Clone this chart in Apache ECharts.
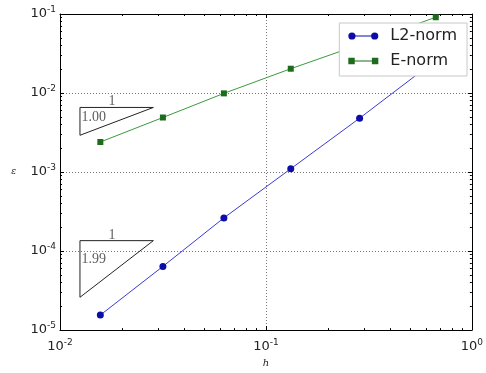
<!DOCTYPE html>
<html>
<head>
<meta charset="utf-8">
<script src="https://cdn.jsdelivr.net/npm/echarts@6/dist/echarts.min.js"></script>
<style>
html, body { margin: 0; padding: 0; background: #fff; }
#chart-container { width: 486px; height: 373px; }
</style>
</head>
<body>
<div id="chart-container"></div>
<script>
// mesh size and the two error norms
var hValues = [0.0157, 0.0316, 0.0625, 0.132, 0.285, 0.668];
var l2Norm = [1.55e-5, 6.4e-5, 2.63e-4, 1.1e-3, 4.8e-3, 2.6e-2];
var eNorm = [2.4e-3, 4.9e-3, 9.9e-3, 2.03e-2, 4.1e-2, 9.1e-2];

// slope triangles: [corner, right end, lower end, corner]
var triUpper = [[0.0125, 0.00657], [0.0284, 0.00657], [0.0125, 0.00292], [0.0125, 0.00657]];
var triLower = [[0.0125, 1.355e-4], [0.0284, 1.355e-4], [0.0125, 2.6e-5], [0.0125, 1.355e-4]];
var runLabels = ['1', '1'];
var runLabelPos = [[0.0179, 0.0078], [0.0179, 1.57e-4]];
var slopeLabels = ['1.00', '1.99'];
var slopeLabelPos = [[0.0127, 0.00492], [0.0127, 7.8e-5]];

var minorSteps = [2, 3, 4, 5, 6, 7, 8, 9];
var xDecades = [0.01, 0.1];
var yDecades = [1e-5, 1e-4, 1e-3, 1e-2];

function minorTicks(decades) {
    var out = [];
    decades.forEach(function (d) {
        minorSteps.forEach(function (m) { out.push(+(d * m).toPrecision(3)); });
    });
    return out;
}
var xMinor = minorTicks(xDecades);
var yMinor = minorTicks(yDecades);

function zip(xs, ys) {
    return xs.map(function (x, i) { return [x, ys[i]]; });
}

var dom = document.getElementById('chart-container');
var myChart = echarts.init(dom, null, { renderer: 'canvas' });

var font = 'DejaVu Sans';
var tickRich = {
    b: { fontSize: 13, fontFamily: font, color: '#222' },
    s: { fontSize: 9, fontFamily: font, color: '#222', verticalAlign: 'top', padding: [0, 0, 8, 0] }
};
function powLabel(v) {
    var e = Math.round(Math.log(v) / Math.LN10);
    return '{b|10}{s|' + e + '}';
}

function mainAxis(pos, withLabels, range) {
    return {
        type: 'log', logBase: 10, min: range[0], max: range[1], position: pos,
        axisLine: { show: true, onZero: false, lineStyle: { color: '#000', width: 1 } },
        axisTick: { show: true, inside: true, length: 4, lineStyle: { color: '#000' } },
        axisLabel: withLabels ? { show: true, formatter: powLabel, rich: tickRich } : { show: false },
        splitLine: withLabels ? { show: true, lineStyle: { color: '#777', type: [1, 2], width: 1 } } : { show: false },
        minorTick: { show: false }
    };
}
function minorAxis(pos, range, ticks) {
    return {
        type: 'log', logBase: 10, min: range[0], max: range[1], position: pos,
        axisLine: { show: false },
        axisTick: { show: true, inside: true, length: 2, customValues: ticks, lineStyle: { color: '#000' } },
        axisLabel: { show: false },
        splitLine: { show: false }
    };
}

var xRange = [0.01, 1];
var yRange = [1e-5, 0.1];

var xAxes = [
    mainAxis('bottom', true, xRange),
    mainAxis('top', false, xRange),
    minorAxis('bottom', xRange, xMinor),
    minorAxis('top', xRange, xMinor)
];
xAxes[0].name = 'h';
xAxes[0].nameLocation = 'middle';
xAxes[0].nameGap = 24;
xAxes[0].nameTextStyle = { fontSize: 10, fontStyle: 'italic', fontFamily: 'DejaVu Serif', color: '#222' };

var yAxes = [
    mainAxis('left', true, yRange),
    mainAxis('right', false, yRange),
    minorAxis('left', yRange, yMinor),
    minorAxis('right', yRange, yMinor)
];
yAxes[0].name = 'ε';
yAxes[0].nameLocation = 'middle';
yAxes[0].nameGap = 44;
yAxes[0].nameRotate = 0;
yAxes[0].nameTextStyle = { fontSize: 9, fontStyle: 'italic', fontFamily: 'DejaVu Serif', color: '#222' };
yAxes[0].axisLabel.margin = 4;
xAxes[0].axisLabel.margin = 8;

var triStyle = { color: '#222', width: 1 };
var textStyle = { fontSize: 14, fontFamily: 'Liberation Serif', color: '#333' };

function labelSeries(texts, pos, align) {
    return {
        type: 'scatter', symbolSize: 0, silent: true, z: 5,
        data: pos.map(function (p, i) {
            return { value: p, label: { show: true, formatter: texts[i] } };
        }),
        label: Object.assign({ show: true, position: [0, 0], align: align, verticalAlign: 'middle' }, textStyle)
    };
}

var option = {
    animation: false,
    grid: { left: 60, right: 14, top: 14, bottom: 41, containLabel: false },
    xAxis: xAxes,
    yAxis: yAxes,
    legend: {
        data: [
            { name: 'L2-norm', icon: 'path://M0.5,4A3.5,3.5,0,1,1,7.5,4A3.5,3.5,0,1,1,0.5,4Z M7,3.5L23,3.5L23,4.5L7,4.5Z M22.5,4A3.5,3.5,0,1,1,29.5,4A3.5,3.5,0,1,1,22.5,4Z' },
            { name: 'E-norm', icon: 'path://M1,1L7,1L7,7L1,7Z M7,3.5L23,3.5L23,4.5L7,4.5Z M23,1L29,1L29,7L23,7Z' }
        ],
        orient: 'vertical',
        right: 19, top: 23,
        padding: [5, 10, 7, 9],
        itemWidth: 30, itemHeight: 8, itemGap: 9,
        backgroundColor: '#fff',
        borderColor: '#c8c8c8', borderWidth: 1, borderRadius: 0,
        itemStyle: { borderWidth: 0 },
        textStyle: { fontSize: 16, fontFamily: font, color: '#222', lineHeight: 16, padding: [0, 0, 0, 7] },
        selectedMode: false
    },
    series: [
        {
            name: 'L2-norm', type: 'line', data: zip(hValues, l2Norm),
            symbol: 'circle', symbolSize: 7,
            itemStyle: { color: '#0c0ca8' },
            lineStyle: { color: '#3a3ad6', width: 1 },
            z: 3
        },
        {
            name: 'E-norm', type: 'line', data: zip(hValues, eNorm),
            symbol: 'rect', symbolSize: 6,
            itemStyle: { color: '#1c6c1c' },
            lineStyle: { color: '#3a9a3a', width: 1 },
            z: 3
        },
        { type: 'line', data: triUpper, symbol: 'none', silent: true, lineStyle: triStyle, z: 4 },
        { type: 'line', data: triLower, symbol: 'none', silent: true, lineStyle: triStyle, z: 4 },
        labelSeries(runLabels, runLabelPos, 'center'),
        labelSeries(slopeLabels, slopeLabelPos, 'left')
    ]
};

myChart.setOption(option);
window.addEventListener('resize', myChart.resize);
</script>
</body>
</html>
